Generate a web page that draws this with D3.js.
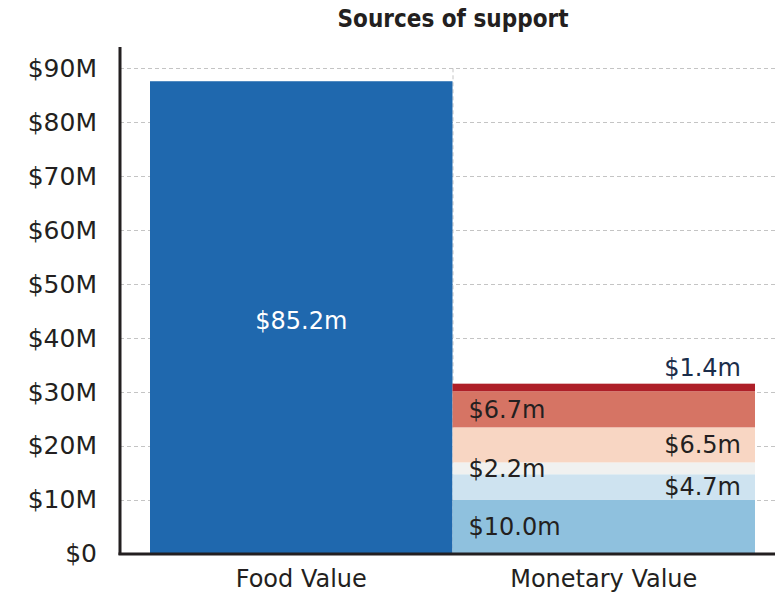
<!DOCTYPE html>
<html>
<head>
<meta charset="utf-8">
<script src="https://cdn.jsdelivr.net/npm/d3@7"></script>
<style>
  body { margin: 0; background: #fff; }
  text { font-family: "DejaVu Sans", sans-serif; }
</style>
</head>
<body>
<svg id="chart"></svg>
<script>
var categories = ["Food Value", "Monetary Value"];
var foodValues = [87.6];
var foodLabels = ["$85.2m"];
var monetaryValues = [10.0, 4.7, 2.2, 6.5, 6.7, 1.4];
var monetaryLabels = ["$10.0m", "$4.7m", "$2.2m", "$6.5m", "$6.7m", "$1.4m"];
var monetaryColors = ["#8fc1de", "#cee3f0", "#f0f1f0", "#f8d6c3", "#d67464", "#ae1f28"];
var labelSides = ["left", "right", "left", "right", "left", "right"];
var yTicks = [0, 10, 20, 30, 40, 50, 60, 70, 80, 90];
var yTickLabels = ["$0", "$10M", "$20M", "$30M", "$40M", "$50M", "$60M", "$70M", "$80M", "$90M"];

var width = 775, height = 593;

var svg = d3.select("#chart")
    .attr("width", width)
    .attr("height", height);

var xScale = d3.scaleBand()
    .domain(categories)
    .range([150, 755])
    .paddingInner(0)
    .paddingOuter(0);

var yScale = d3.scaleLinear()
    .domain([0, 90])
    .range([553.5, 68.3]);

// title
svg.append("text")
    .attr("x", 453)
    .attr("y", 27)
    .attr("text-anchor", "middle")
    .style("font-family", "'DejaVu Sans Condensed', 'DejaVu Sans', sans-serif")
    .style("font-stretch", "condensed")
    .style("font-weight", "bold")
    .style("font-size", "24px")
    .attr("fill", "#231f20")
    .text("Sources of support");

// gridlines
svg.append("g").selectAll("line")
    .data(yTicks.filter(function (d) { return d > 0; }))
    .enter().append("line")
    .attr("x1", 120)
    .attr("x2", width)
    .attr("y1", function (d) { return Math.round(yScale(d)) + 0.5; })
    .attr("y2", function (d) { return Math.round(yScale(d)) + 0.5; })
    .attr("stroke", "#c4c4c4")
    .attr("stroke-width", 1)
    .attr("stroke-dasharray", "4,3");

// vertical dashed line at band boundary
svg.append("line")
    .attr("x1", xScale("Monetary Value") + 0.5)
    .attr("x2", xScale("Monetary Value") + 0.5)
    .attr("y1", yScale(90))
    .attr("y2", yScale(0))
    .attr("stroke", "#c4c4c4")
    .attr("stroke-dasharray", "4,3");

// food bar
svg.append("g").selectAll("rect")
    .data(foodValues)
    .enter().append("rect")
    .attr("x", xScale("Food Value"))
    .attr("width", xScale.bandwidth())
    .attr("y", function (d) { return yScale(d); })
    .attr("height", function (d) { return yScale(0) - yScale(d); })
    .attr("fill", "#1f68ae");

svg.append("text")
    .attr("x", xScale("Food Value") + xScale.bandwidth() / 2)
    .attr("y", 321)
    .attr("dy", "0.35em")
    .attr("text-anchor", "middle")
    .attr("fill", "#fff")
    .style("font-size", "24px")
    .text(foodLabels[0]);

// monetary stacked bar
var stacked = [];
var acc = 0;
monetaryValues.forEach(function (v, i) {
    stacked.push({ y0: acc, y1: acc + v, color: monetaryColors[i], label: monetaryLabels[i], side: labelSides[i] });
    acc += v;
});

svg.append("g").selectAll("rect")
    .data(stacked)
    .enter().append("rect")
    .attr("x", xScale("Monetary Value"))
    .attr("width", xScale.bandwidth())
    .attr("y", function (d) { return yScale(d.y1); })
    .attr("height", function (d) { return yScale(d.y0) - yScale(d.y1); })
    .attr("fill", function (d) { return d.color; });

var monX = xScale("Monetary Value");
svg.append("g").selectAll("text")
    .data(stacked)
    .enter().append("text")
    .attr("x", function (d) { return d.side === "left" ? monX + 16 : monX + xScale.bandwidth() - 14; })
    .attr("y", function (d, i) {
        if (i === stacked.length - 1) return yScale(d.y1) - 16;
        return (yScale(d.y0) + yScale(d.y1)) / 2;
    })
    .attr("dy", "0.35em")
    .attr("text-anchor", function (d) { return d.side === "left" ? "start" : "end"; })
    .attr("fill", function (d, i) { return i === stacked.length - 1 ? "#1b2d4a" : "#231f20"; })
    .style("font-size", "24px")
    .text(function (d) { return d.label; });

// y axis
svg.append("line")
    .attr("x1", 120).attr("x2", 120)
    .attr("y1", 47).attr("y2", 555)
    .attr("stroke", "#231f20")
    .attr("stroke-width", 3);

svg.append("g").selectAll("text")
    .data(yTicks)
    .enter().append("text")
    .attr("x", 97)
    .attr("y", function (d) { return yScale(d); })
    .attr("dy", "0.35em")
    .attr("text-anchor", "end")
    .attr("fill", "#231f20")
    .style("font-size", "25px")
    .text(function (d, i) { return yTickLabels[i]; });

// x axis
svg.append("line")
    .attr("x1", 118.5).attr("x2", width)
    .attr("y1", 554).attr("y2", 554)
    .attr("stroke", "#231f20")
    .attr("stroke-width", 3);

svg.append("g").selectAll("text")
    .data(categories)
    .enter().append("text")
    .attr("x", function (d) { return xScale(d) + xScale.bandwidth() / 2; })
    .attr("y", 579)
    .attr("dy", "0.35em")
    .attr("text-anchor", "middle")
    .attr("fill", "#231f20")
    .style("font-size", "24px")
    .text(function (d) { return d; });
</script>
</body>
</html>
